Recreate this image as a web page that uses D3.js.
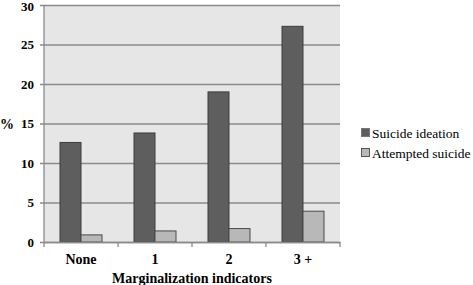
<!DOCTYPE html>
<html>
<head>
<meta charset="utf-8">
<script src="https://cdn.jsdelivr.net/npm/d3@7"></script>
<style>
  body { margin: 0; background: #fff; }
  svg text { font-family: "Liberation Serif", "DejaVu Serif", serif; fill: #000; }
</style>
</head>
<body>
<svg id="chart" width="473" height="285"></svg>
<script>
var categories = ['None', '1', '2', '3 +'];
var seriesNames = ['Suicide ideation', 'Attempted suicide'];
var ideation = [12.6, 13.8, 19.0, 27.3];
var attempted = [0.9, 1.4, 1.7, 3.9];
var yTicks = [0, 5, 10, 15, 20, 25, 30];

var
  margin = {top: 5, right: 133, bottom: 43, left: 44},
  width = 473 - margin.left - margin.right,
  height = 285 - margin.top - margin.bottom,
  fills = ['#5e5e5e', '#b8b8b8'],
  strokes = ['#3c3c3c', '#4a4a4a']
  ;

var svg = d3.select('#chart');
var g = svg.append('g').attr('transform', 'translate(' + margin.left + ',' + margin.top + ')');

var x = d3.scaleBand().domain(categories).range([0, width]);
var x1 = d3.scaleBand().domain(seriesNames).range([16, 58]);
var y = d3.scaleLinear().domain([0, 30]).range([height, 0]);

g.append('rect')
  .attr('width', width).attr('height', height)
  .attr('fill', '#e6e6e6');

// gridlines + y labels
var yAxis = g.append('g')
  .call(d3.axisLeft(y).tickValues(yTicks).tickSize(-width - 4).tickPadding(10));
yAxis.select('.domain').remove();
yAxis.selectAll('.tick line')
  .attr('x1', -4)
  .attr('x2', width)
  .attr('stroke', '#8a8a8a')
  .attr('stroke-width', 1.3);
yAxis.selectAll('.tick text')
  .attr('font-size', 13).attr('font-weight', 'bold');
yAxis.selectAll('.tick text')
  .filter(function(d){ return d === 30; })
  .attr('dy', '0.42em');

g.append('line')
  .attr('x1', 0).attr('x2', 0).attr('y1', 0).attr('y2', height)
  .attr('stroke', '#8a8a8a').attr('stroke-width', 1.3);

var rows = categories.map(function(c, i){
  return {cat: c, values: [ideation[i], attempted[i]]};
});

g.selectAll('g.group')
  .data(rows)
  .enter().append('g')
  .attr('class', 'group')
  .attr('transform', function(d){ return 'translate(' + x(d.cat) + ',0)'; })
  .selectAll('rect')
  .data(function(d){ return d.values.map(function(v, j){ return {key: seriesNames[j], v: v, j: j}; }); })
  .enter().append('rect')
  .attr('x', function(d){ return x1(d.key); })
  .attr('width', x1.bandwidth())
  .attr('y', function(d){ return y(d.v); })
  .attr('height', function(d){ return height - y(d.v); })
  .attr('fill', function(d){ return fills[d.j]; })
  .attr('stroke', function(d){ return strokes[d.j]; })
  .attr('stroke-width', 1);

// x axis
var xAxis = g.append('g')
  .attr('transform', 'translate(0,' + height + ')')
  .call(d3.axisBottom(x).tickSize(0).tickPadding(12));
xAxis.select('.domain').attr('stroke', '#8a8a8a').attr('stroke-width', 1.3);
xAxis.selectAll('.tick text').attr('font-size', 14).attr('font-weight', 'bold');
xAxis.selectAll('line.sep')
  .data(d3.range(5))
  .enter().append('line')
  .attr('class', 'sep')
  .attr('x1', function(i){ return i * x.step(); })
  .attr('x2', function(i){ return i * x.step(); })
  .attr('y1', 0).attr('y2', 5)
  .attr('stroke', '#8a8a8a').attr('stroke-width', 1.3);

g.append('text')
  .attr('x', width / 2).attr('y', height + 41)
  .attr('text-anchor', 'middle')
  .attr('font-size', 14).attr('font-weight', 'bold')
  .text('Marginalization indicators');

svg.append('text')
  .attr('x', 0).attr('y', margin.top + y(15) + 5)
  .attr('font-size', 14).attr('font-weight', 'bold')
  .text('%');

// legend
var legend = svg.append('g').attr('transform', 'translate(361,133)');
var items = legend.selectAll('g')
  .data(seriesNames)
  .enter().append('g')
  .attr('transform', function(d, i){ return 'translate(0,' + (i * 20) + ')'; });
items.append('rect')
  .attr('x', 0.5).attr('y', -4.5).attr('width', 8).attr('height', 8)
  .attr('fill', function(d, i){ return fills[i]; })
  .attr('stroke', function(d, i){ return i ? '#555' : '#777'; });
items.append('text')
  .attr('x', 11).attr('y', 4.5)
  .attr('font-size', 13.5)
  .text(function(d){ return d; });
</script>
</body>
</html>
